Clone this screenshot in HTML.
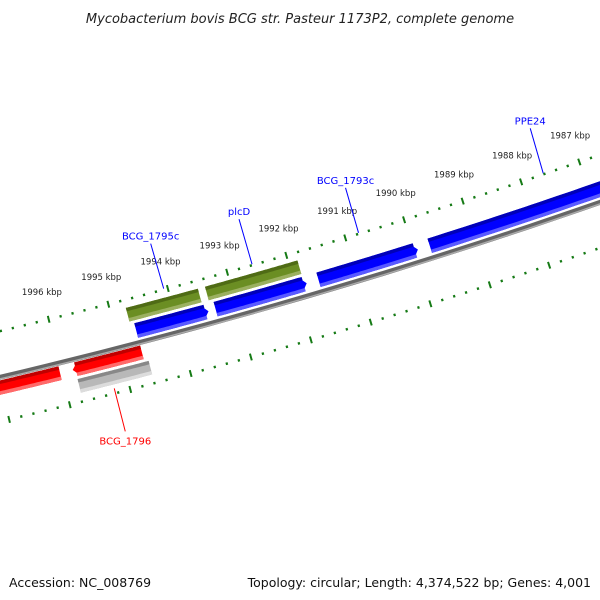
<!DOCTYPE html>
<html><head><meta charset="utf-8"><style>
html,body{margin:0;padding:0;background:#fff;}
svg{display:block;font-family:"DejaVu Sans","Liberation Sans",sans-serif;}
</style></head><body>
<svg id="map" width="600" height="600" viewBox="0 0 600 600">
<text x="300" y="23" text-anchor="middle" font-size="13" font-style="italic" fill="#222">Mycobacterium bovis BCG str. Pasteur 1173P2, complete genome</text>
<text x="9" y="587" font-size="12.5" fill="#111">Accession: NC_008769</text>
<text x="591" y="587" text-anchor="end" font-size="12.5" fill="#111">Topology: circular; Length: 4,374,522 bp; Genes: 4,001</text>
<g id="layer"></g>
</svg>
<script>
// data (kbp)
const tickLabels = [1996,1995,1994,1993,1992,1991,1990,1989,1988,1987];
const blueStart = [1994.67,1993.34,1991.61,1989.73];
const blueEnd   = [1993.46,1991.81,1989.93,1985.5];
const blueNames = ["BCG_1795c","plcD","BCG_1793c","PPE24"];
const greenStart = [1994.74,1993.41];
const greenEnd   = [1993.53,1991.85];
const redStart = [1998.0,1995.82];
const redEnd   = [1996.03,1994.67];
const redNames = ["","BCG_1796"];
const grayStart = [1995.78];
const grayEnd   = [1994.60];

const NS="http://www.w3.org/2000/svg";
const layer=document.getElementById('layer');
const CX=-1402, CY=-5547, R0=6086;
function P(bp,dr){const a=(76.11+(bp-1996)*0.5833)*Math.PI/180;const r=R0+dr;return [CX+r*Math.cos(a),CY+r*Math.sin(a)];}
function arcPts(b1,b2,dr){const pts=[];const n=40;for(let i=0;i<=n;i++){pts.push(P(b1+(b2-b1)*i/n,dr));}return pts;}
function mk(tag,attrs){const e=document.createElementNS(NS,tag);for(const k in attrs)e.setAttribute(k,attrs[k]);layer.appendChild(e);return e;}
function ptsStr(p){return p.map(q=>q[0].toFixed(1)+','+q[1].toFixed(1)).join(' ');}
// band from bl (left, higher bp) to br (right), r1<r2; tip: 'R','L',or ''
function band(bl,br,r1,r2,tip){
  const tl=0.1;
  let a=bl,b=br;
  if(tip==='R')b=br+tl;
  if(tip==='L')a=bl-tl;
  let pts=arcPts(a,b,r1);
  if(tip==='R')pts.push(P(br,(r1+r2)/2));
  pts=pts.concat(arcPts(b,a,r2));
  if(tip==='L')pts.push(P(bl,(r1+r2)/2));
  return pts;
}
// backbone
let bb=mk('polyline',{points:ptsStr(arcPts(2000,1983,2)),fill:'none',stroke:'#666',"stroke-width":5});


let bb2=mk('polyline',{points:ptsStr(arcPts(2000,1983,3.5)),fill:'none',stroke:'#aaa',"stroke-width":1.5});


// ticks
for(let t=19840;t<=19990;t+=2){
  const bp=t/10, major=(t%10===0);
  [-43,45].forEach(dr=>{
    const len=major?7:2.5;
    const p1=P(bp,dr-len/2),p2=P(bp,dr+len/2);
    const l=mk('line',{x1:p1[0],y1:p1[1],x2:p2[0],y2:p2[1],stroke:'#157a15',"stroke-width":major?2:2.2});
    
    
  });
}
tickLabels.forEach(k=>{
  const p=P(k,-71);
  const t=mk('text',{x:p[0],y:p[1]+3,"text-anchor":"middle","font-size":"8.5",fill:'#222'});
  t.textContent=k+' kbp';
  
  
});
function feature(bl,br,r1,r2,tip,cols,name){
  const f=mk('polygon',{points:ptsStr(band(bl,br,r1,r2,tip)),fill:cols[1]});
  
  
  const sl=tip==='L'?bl-0.05:bl, sr=tip==='R'?br+0.05:br;
  const d=mk('polygon',{points:ptsStr(band(sl,sr,r1,r1+3.5,'')),fill:cols[0]});
  
  
  const g=mk('polygon',{points:ptsStr(band(sl,sr,r2-3.5,r2,'')),fill:cols[2]});
  
  
}
const GREEN=['#4f6b15','#6b8e23','#9bb060'],BLUE=['#0000b8','#0000ff','#5a5aff'],RED=['#c00000','#ff0000','#ff6a6a'],GRAY=['#888','#b8b8b8','#dcdcdc'];
greenStart.forEach((s,i)=>feature(s,greenEnd[i],-35,-21,'',GREEN,'green-feature'));
blueStart.forEach((s,i)=>feature(s,blueEnd[i],-18,-3,'R',BLUE,'cds-'+blueNames[i].toLowerCase()));
redStart.forEach((s,i)=>feature(s,redEnd[i],5,19,i===1?'L':'',RED,'cds-red-'+i));
grayStart.forEach((s,i)=>feature(s,grayEnd[i],22,36,'',GRAY,'gray-feature'));
function label(mid,dr,dx,dy,txt,col){
  const p1=P(mid,dr);const p2=[p1[0]+dx,p1[1]+dy];
  const l=mk('line',{x1:p1[0],y1:p1[1],x2:p2[0],y2:p2[1],stroke:col,"stroke-width":1});
  
  
  const t=mk('text',{x:p2[0],y:dy<0?p2[1]-4:p2[1]+13,"text-anchor":"middle","font-size":"10",fill:col});
  t.textContent=txt;
  
  
}
blueStart.forEach((s,i)=>{const e=Math.max(blueEnd[i],1987.7);label((s+blueEnd[i]<3975?(s+1987.9)/2:(s+blueEnd[i])/2),-44,-13,-45,blueNames[i],'#0000ff');});
redStart.forEach((s,i)=>{if(redNames[i])label((s+redEnd[i])/2,40,11,43,redNames[i],'#ff0000');});
</script>
</body></html>
